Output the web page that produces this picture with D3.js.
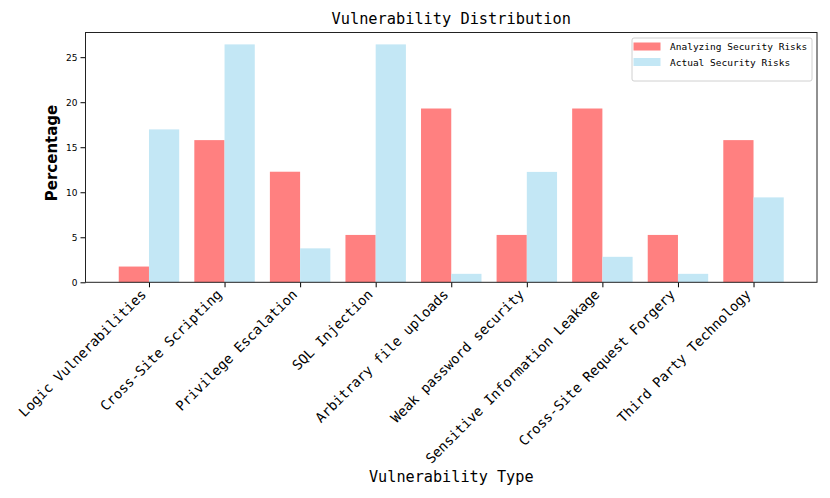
<!DOCTYPE html>
<html>
<head>
<meta charset="utf-8">
<script src="https://cdn.jsdelivr.net/npm/d3@7"></script>
<style>
  body { margin: 0; background: #fff; }
  svg { display: block; }
</style>
</head>
<body>
<svg id="chart" width="830" height="498"></svg>
<script>
'use strict';
// vulnerability categories, values in percent
const categories = ['Logic Vulnerabilities', 'Cross-Site Scripting', 'Privilege Escalation', 'SQL Injection',
  'Arbitrary file uploads', 'Weak password security', 'Sensitive Information Leakage',
  'Cross-Site Request Forgery', 'Third Party Technology'];
const analyzingRisks = [1.75, 15.79, 12.28, 5.26, 19.30, 5.26, 19.30, 5.26, 15.79];
const actualRisks = [16.98, 26.42, 3.77, 26.42, 0.94, 12.26, 2.83, 0.94, 9.43];
const yTicks = [0, 5, 10, 15, 20, 25];
const seriesNames = ['Analyzing Security Risks', 'Actual Security Risks'];

const mono = '"DejaVu Sans Mono", monospace';
const sans = '"DejaVu Sans", sans-serif';
const colors = ['#ff8080', '#c3e7f5'];
const barW = 0.4;

const svg = d3.select('#chart');
const plotL = 85.5, plotR = 817, plotT = 32.5, plotB = 282.3;

const x = d3.scaleLinear().domain([-0.84, categories.length - 1 + 0.84]).range([plotL, plotR]);
const yMax = d3.max(analyzingRisks.concat(actualRisks)) * 1.05;
const y = d3.scaleLinear().domain([0, yMax]).range([plotB, plotT]);

// bars
const series = [analyzingRisks, actualRisks];
series.forEach(function(vals, s) {
  svg.append('g').selectAll('rect')
    .data(vals)
    .join('rect')
    .attr('x', (d, i) => x(i - barW + s * barW))
    .attr('width', (d, i) => x(i + barW) - x(i))
    .attr('y', d => y(d))
    .attr('height', d => y(0) - y(d))
    .attr('fill', colors[s]);
});

// y axis
const yAxis = svg.append('g')
  .attr('transform', 'translate(' + plotL + ',0)')
  .call(d3.axisLeft(y).tickValues(yTicks).tickSize(5).tickPadding(3).tickFormat(d3.format('d')));
yAxis.select('.domain').remove();
yAxis.selectAll('text').attr('font-family', sans).attr('font-size', 9).attr('fill', '#000');
yAxis.selectAll('line').attr('stroke', '#000');

// x axis
const xAxis = svg.append('g')
  .attr('transform', 'translate(0,' + plotB + ')')
  .call(d3.axisBottom(x).tickValues(d3.range(categories.length)).tickSize(5).tickFormat(''));
xAxis.select('.domain').remove();
xAxis.selectAll('line').attr('stroke', '#000');

svg.append('g').selectAll('text')
  .data(categories)
  .join('text')
  .attr('transform', (d, i) => 'translate(' + (x(i) - 2) + ',' + (plotB + 13) + ') rotate(-45)')
  .attr('text-anchor', 'end')
  .attr('font-family', mono)
  .attr('font-size', 13.7)
  .attr('fill', '#000')
  .text(d => d);

// frame
svg.append('rect')
  .attr('x', plotL).attr('y', plotT)
  .attr('width', plotR - plotL).attr('height', plotB - plotT)
  .attr('fill', 'none').attr('stroke', '#222').attr('stroke-width', 1);

// title and axis labels
svg.append('text')
  .attr('x', (plotL + plotR) / 2).attr('y', 24)
  .attr('text-anchor', 'middle')
  .attr('font-family', mono).attr('font-size', 15.3)
  .text('Vulnerability Distribution');

svg.append('text')
  .attr('x', (plotL + plotR) / 2).attr('y', 482)
  .attr('text-anchor', 'middle')
  .attr('font-family', mono).attr('font-size', 15.2)
  .text('Vulnerability Type');

svg.append('text')
  .attr('transform', 'translate(57,153) rotate(-90)')
  .attr('text-anchor', 'middle')
  .attr('font-family', sans).attr('font-size', 15).attr('font-weight', 'bold')
  .text('Percentage');

// legend
const legend = svg.append('g').attr('transform', 'translate(632,38)');
legend.append('rect')
  .attr('width', 180).attr('height', 43).attr('rx', 2)
  .attr('fill', '#fff').attr('fill-opacity', 0.8)
  .attr('stroke', '#d0d0d0');
seriesNames.forEach(function(name, s) {
  legend.append('rect')
    .attr('x', 1.5).attr('y', 4.5 + s * 15.5)
    .attr('width', 27).attr('height', 8)
    .attr('fill', colors[s]);
  legend.append('text')
    .attr('x', 38).attr('y', 12.3 + s * 15.5)
    .attr('font-family', mono).attr('font-size', 9.5)
    .text(name);
});
</script>
</body>
</html>
